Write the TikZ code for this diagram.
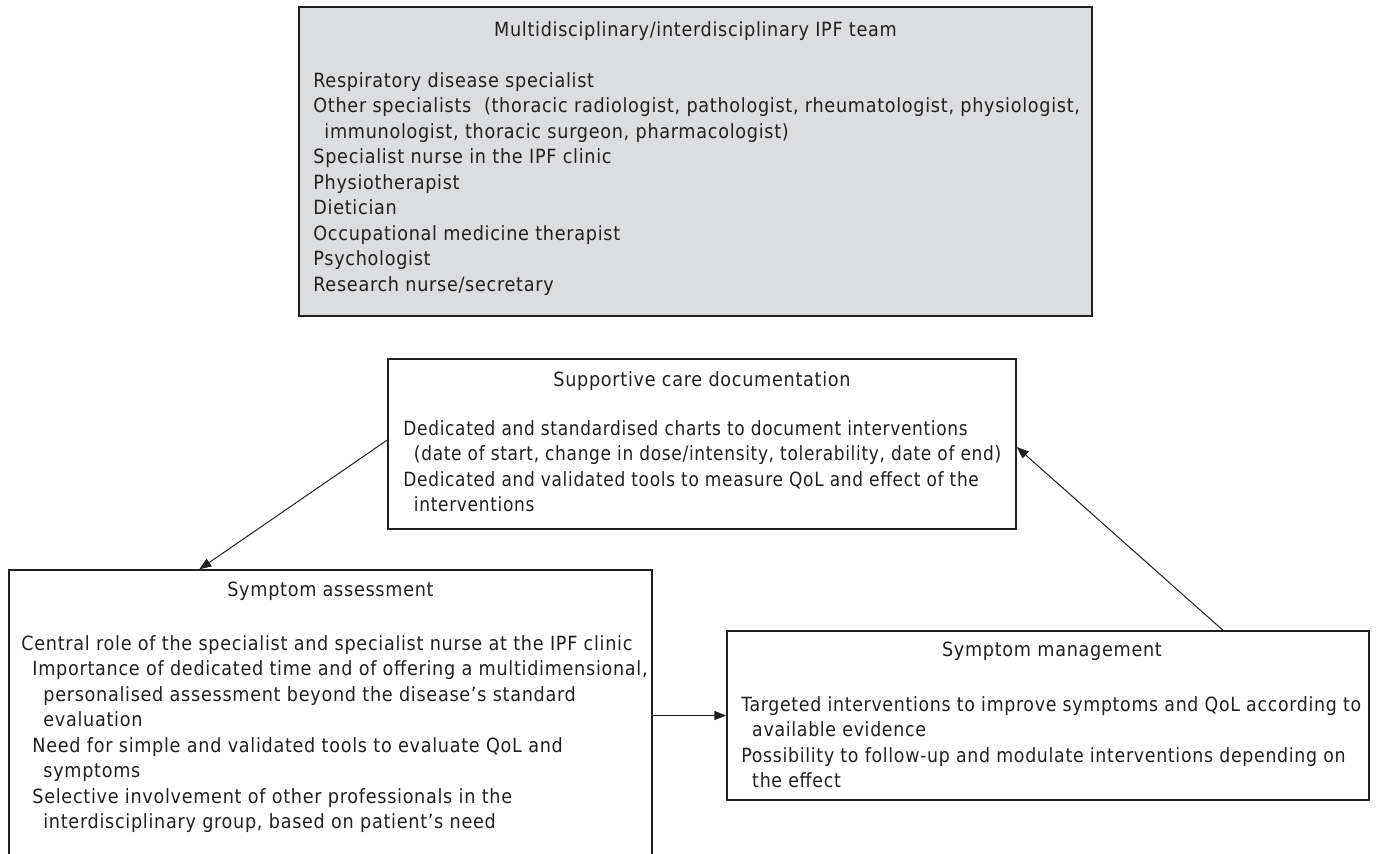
\documentclass[tikz,border=0pt]{standalone}
\usepackage{fontspec}
\usepackage{graphicx}
\setmainfont{DejaVu Sans Condensed}[LetterSpace=3.6]
\usetikzlibrary{arrows.meta,calc}
\definecolor{boxgray}{HTML}{DCDDDF}
\definecolor{ink}{HTML}{231F20}
\newcommand\mylines[1]{\begin{tabular}[t]{@{}l@{}}#1\end{tabular}}
\newcommand\ia{\hspace*{5.5pt}}
\newcommand\ib{\hspace*{11pt}}
\tikzset{
 box/.style={draw=ink, line width=0.7pt, rectangle, inner sep=0pt},
 txt/.style={anchor=base west, inner sep=0pt, text=ink, font=\fontsize{9.8}{12.75}\selectfont},
 ttl/.style={anchor=base, inner sep=0pt, text=ink, font=\fontsize{9.8}{12.75}\selectfont},
 arr/.style={-{Triangle[length=6pt,width=4.5pt]}, line width=0.5pt, draw=ink}
}
\begin{document}
\begin{tikzpicture}[x=0.5pt,y=-0.5pt]
\useasboundingbox (0,0) rectangle (1376,853);
\clip (0,0) rectangle (1376,853);
% boxes
\node[box, fill=boxgray, minimum width=396.5pt, minimum height=154.5pt] (team) at (695.5,161.5) {};
\node[box, minimum width=314pt, minimum height=85pt] (doc) at (702,444) {};
\node[box, minimum width=321.5pt, minimum height=155pt] (assess) at (330.5,725) {};
\node[box, minimum width=321pt, minimum height=84.5pt] (mgmt) at (1048,715.5) {};
% titles
\node[ttl] (teamT) at (695.5,36) {Multidisciplinary/interdisciplinary IPF team};
\node[ttl] (docT) at (702,386) {Supportive care documentation};
\node[ttl] (assessT) at (330.5,596) {Symptom assessment};
\node[ttl] (mgmtT) at (1052,656) {Symptom management};
% texts
\node[txt] (teamX) at (313,87) {\mylines{%
Respiratory disease specialist\\
Other specialists\ \ (thoracic radiologist, pathologist, rheumatologist, physiologist,\\
\ia immunologist, thoracic surgeon, pharmacologist)\\
Specialist nurse in the IPF clinic\\
Physiotherapist\\
Dietician\\
Occupational medicine therapist\\
Psychologist\\
Research nurse/secretary}};
\node[txt] (docX) at (403,435) {\scalebox{0.963}[1]{\mylines{%
Dedicated and standardised charts to document interventions\\
\ia(date of start, change in dose/intensity, tolerability, date of end)\\
Dedicated and validated tools to measure QoL and effect of the\\
\ia interventions}}};
\node[txt] (assessX) at (21,650) {\mylines{%
Central role of the specialist and specialist nurse at the IPF clinic\\
\ia Importance of dedicated time and of offering a multidimensional,\\
\ib personalised assessment beyond the disease's standard\\
\ib evaluation\\
\ia Need for simple and validated tools to evaluate QoL and\\
\ib symptoms\\
\ia Selective involvement of other professionals in the\\
\ib interdisciplinary group, based on patient's need}};
\node[txt] (mgmtX) at (741,711) {\scalebox{0.985}[1]{\mylines{%
Targeted interventions to improve symptoms and QoL according to\\
\ia available evidence\\
Possibility to follow-up and modulate interventions depending on\\
\ia the effect}}};
% connectors
\draw[arr] ([yshift=2pt]doc.west) -- ([xshift=95.5pt]assess.north west);
\draw[arr] (assess.east |- mgmt.west) -- (mgmt.west);
\draw[arr] ([xshift=87.5pt]mgmt.north) -- ([yshift=-1.5pt]doc.east);
\end{tikzpicture}
\end{document}
